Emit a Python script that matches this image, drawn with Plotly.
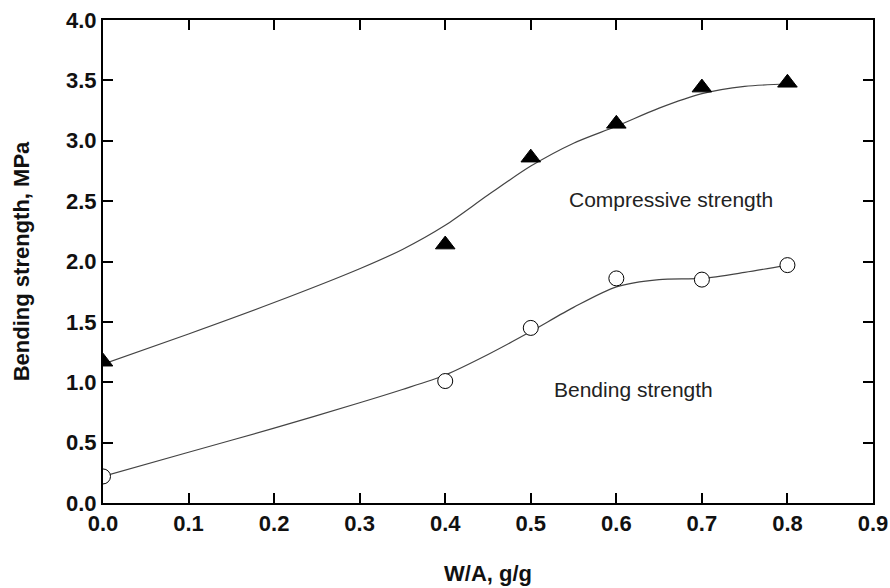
import plotly.graph_objects as go

# measured points
x_pts = [0.0, 0.4, 0.5, 0.6, 0.7, 0.8]
compressive = [1.17, 2.14, 2.86, 3.14, 3.44, 3.48]
bending = [0.22, 1.01, 1.45, 1.86, 1.85, 1.97]

# fitted curves
x_fit = [0.0, 0.1, 0.2, 0.3, 0.35, 0.4, 0.45, 0.5, 0.55, 0.6, 0.65, 0.7, 0.75, 0.8]
compressive_fit = [1.15, 1.40, 1.66, 1.94, 2.10, 2.30, 2.55, 2.79, 2.98, 3.12, 3.27, 3.39, 3.45, 3.47]
bending_fit = [0.22, 0.42, 0.62, 0.83, 0.94, 1.06, 1.23, 1.42, 1.62, 1.79, 1.85, 1.86, 1.91, 1.97]

x_ticks = [0.0, 0.1, 0.2, 0.3, 0.4, 0.5, 0.6, 0.7, 0.8, 0.9]
y_ticks = [0.0, 0.5, 1.0, 1.5, 2.0, 2.5, 3.0, 3.5, 4.0]

FONT = "Liberation Sans, Arial, Helvetica, sans-serif"

fig = go.Figure()
line_style = dict(color="#444444", width=1.2, shape="spline", smoothing=0.8)
fig.add_trace(go.Scatter(x=x_fit, y=compressive_fit, mode="lines", line=line_style, showlegend=False))
fig.add_trace(go.Scatter(x=x_fit, y=bending_fit, mode="lines", line=line_style, showlegend=False))
fig.add_trace(go.Scatter(x=x_pts, y=compressive, mode="markers",
                         marker=dict(symbol="triangle-up", size=17, color="black",
                                     line=dict(color="black", width=1)),
                         showlegend=False))
fig.add_trace(go.Scatter(x=x_pts, y=bending, mode="markers",
                         marker=dict(symbol="circle", size=15, color="white",
                                     line=dict(color="black", width=1)),
                         showlegend=False))

fig.add_annotation(x=0.664, y=2.51, text="Compressive strength", showarrow=False,
                   font=dict(family=FONT, size=21, color="#222"))
fig.add_annotation(x=0.62, y=0.94, text="Bending strength", showarrow=False,
                   font=dict(family=FONT, size=21, color="#222"))

axis_common = dict(showgrid=False, zeroline=False, showline=True, linecolor="black",
                   linewidth=2, mirror="ticks", ticks="inside", ticklen=10,
                   tickwidth=2, tickcolor="black", automargin=False,
                   tickfont=dict(family=FONT, size=22, color="#111", weight="bold"))

fig.update_xaxes(range=[0, 0.9], tickvals=x_ticks, tickformat=".1f",
                 title=dict(text="<b>W/A, g/g</b>", standoff=30,
                            font=dict(family=FONT, size=22, color="#111")),
                 **axis_common)
fig.update_yaxes(range=[0, 4.0], tickvals=y_ticks, tickformat=".1f",
                 title=dict(text="<b>Bending strength, MPa</b>", standoff=30,
                            font=dict(family=FONT, size=22, color="#111")),
                 **axis_common)

fig.update_layout(width=890, height=588, margin=dict(l=103, r=17, t=20, b=85),
                  plot_bgcolor="white", paper_bgcolor="white")

fig.write_html("out.html")
